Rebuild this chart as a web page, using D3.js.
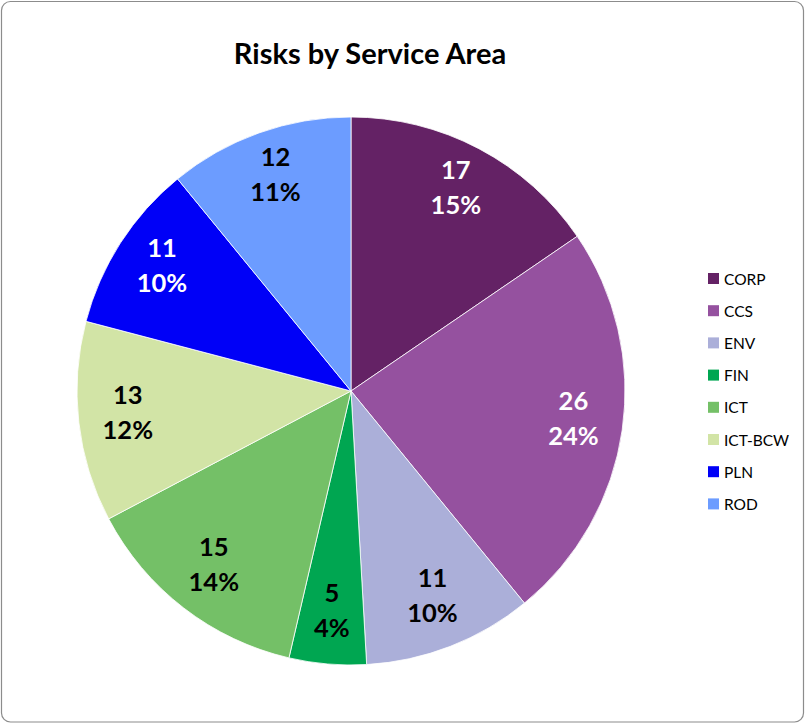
<!DOCTYPE html>
<html>
<head>
<meta charset="utf-8">
<script src="https://cdn.jsdelivr.net/npm/d3@7"></script>
<style>
  html, body { margin: 0; padding: 0; background: #fff; }
  svg { display: block; }
</style>
</head>
<body>
<svg id="chart" width="805" height="724"></svg>
<script>
// Risk counts per service area
const categories = ["CORP", "CCS", "ENV", "FIN", "ICT", "ICT-BCW", "PLN", "ROD"];
const values = [17, 26, 11, 5, 15, 13, 11, 12];
const colors = ["#642265", "#95519F", "#ABAFD9", "#00A651", "#74C067", "#D2E4A6", "#0000F7", "#6C9CFF"];
const darkLabel = ["CORP", "CCS", "PLN"]; // slices that take white label text

const W = 805, H = 724;
const svg = d3.select("#chart");
const fontFamily = "Lato, 'Open Sans', sans-serif";

// Chart frame
svg.append("rect")
  .attr("x", 1.5).attr("y", 1.5)
  .attr("width", W - 3).attr("height", H - 3.5)
  .attr("rx", 9).attr("ry", 9)
  .attr("fill", "#fff")
  .attr("stroke", "#8c8c8c")
  .attr("stroke-width", 1.2);

// Title
svg.append("text")
  .attr("x", 370).attr("y", 64)
  .attr("text-anchor", "middle")
  .attr("font-family", fontFamily)
  .attr("font-weight", "bold")
  .attr("font-size", 29)
  .attr("fill", "#000")
  .text("Risks by Service Area");

// Whole-percent labels that add up to 100 (largest remainder)
const total = d3.sum(values);
const raw = values.map(v => v / total * 100);
const pct = raw.map(Math.floor);
let remaining = 100 - d3.sum(pct);
d3.range(values.length)
  .sort((a, b) => (raw[b] - pct[b]) - (raw[a] - pct[a]))
  .slice(0, remaining)
  .forEach(i => { pct[i] += 1; });

const data = categories.map((c, i) => ({ name: c, value: values[i], pct: pct[i], color: colors[i] }));

const cx = 351, cy = 391, R = 274;
const color = d3.scaleOrdinal().domain(categories).range(colors);

const pie = d3.pie().value(d => d.value).sort(null);
const arc = d3.arc().innerRadius(0).outerRadius(R);
const labelArc = d3.arc().innerRadius(R * 0.82).outerRadius(R * 0.82);

const g = svg.append("g").attr("transform", `translate(${cx},${cy})`);
const arcs = pie(data);

g.selectAll("path.slice")
  .data(arcs)
  .join("path")
  .attr("class", "slice")
  .attr("d", arc)
  .attr("fill", d => color(d.data.name))
  .attr("stroke", "#fff")
  .attr("stroke-width", 0.8);

const labels = g.selectAll("text.lbl")
  .data(arcs)
  .join("text")
  .attr("class", "lbl")
  .attr("transform", d => `translate(${labelArc.centroid(d)})`)
  .attr("text-anchor", "middle")
  .attr("font-family", fontFamily)
  .attr("font-weight", "bold")
  .attr("font-size", 25.5)
  .attr("fill", d => darkLabel.includes(d.data.name) ? "#fff" : "#000");

labels.append("tspan").attr("x", 0).attr("y", -13).text(d => d.data.value);
labels.append("tspan").attr("x", 0).attr("y", 22).text(d => d.data.pct + "%");

// Legend
const legend = svg.append("g").attr("transform", "translate(708,279)");
const rowH = 32.2;
const items = legend.selectAll("g.item")
  .data(data)
  .join("g")
  .attr("class", "item")
  .attr("transform", (d, i) => `translate(0,${i * rowH})`);

items.append("rect")
  .attr("x", 0).attr("y", -6)
  .attr("width", 11).attr("height", 11)
  .attr("fill", d => color(d.name));

items.append("text")
  .attr("x", 16).attr("y", 5.5)
  .attr("font-family", fontFamily)
  .attr("font-size", 15.5)
  .attr("fill", "#000")
  .text(d => d.name);
</script>
</body>
</html>
